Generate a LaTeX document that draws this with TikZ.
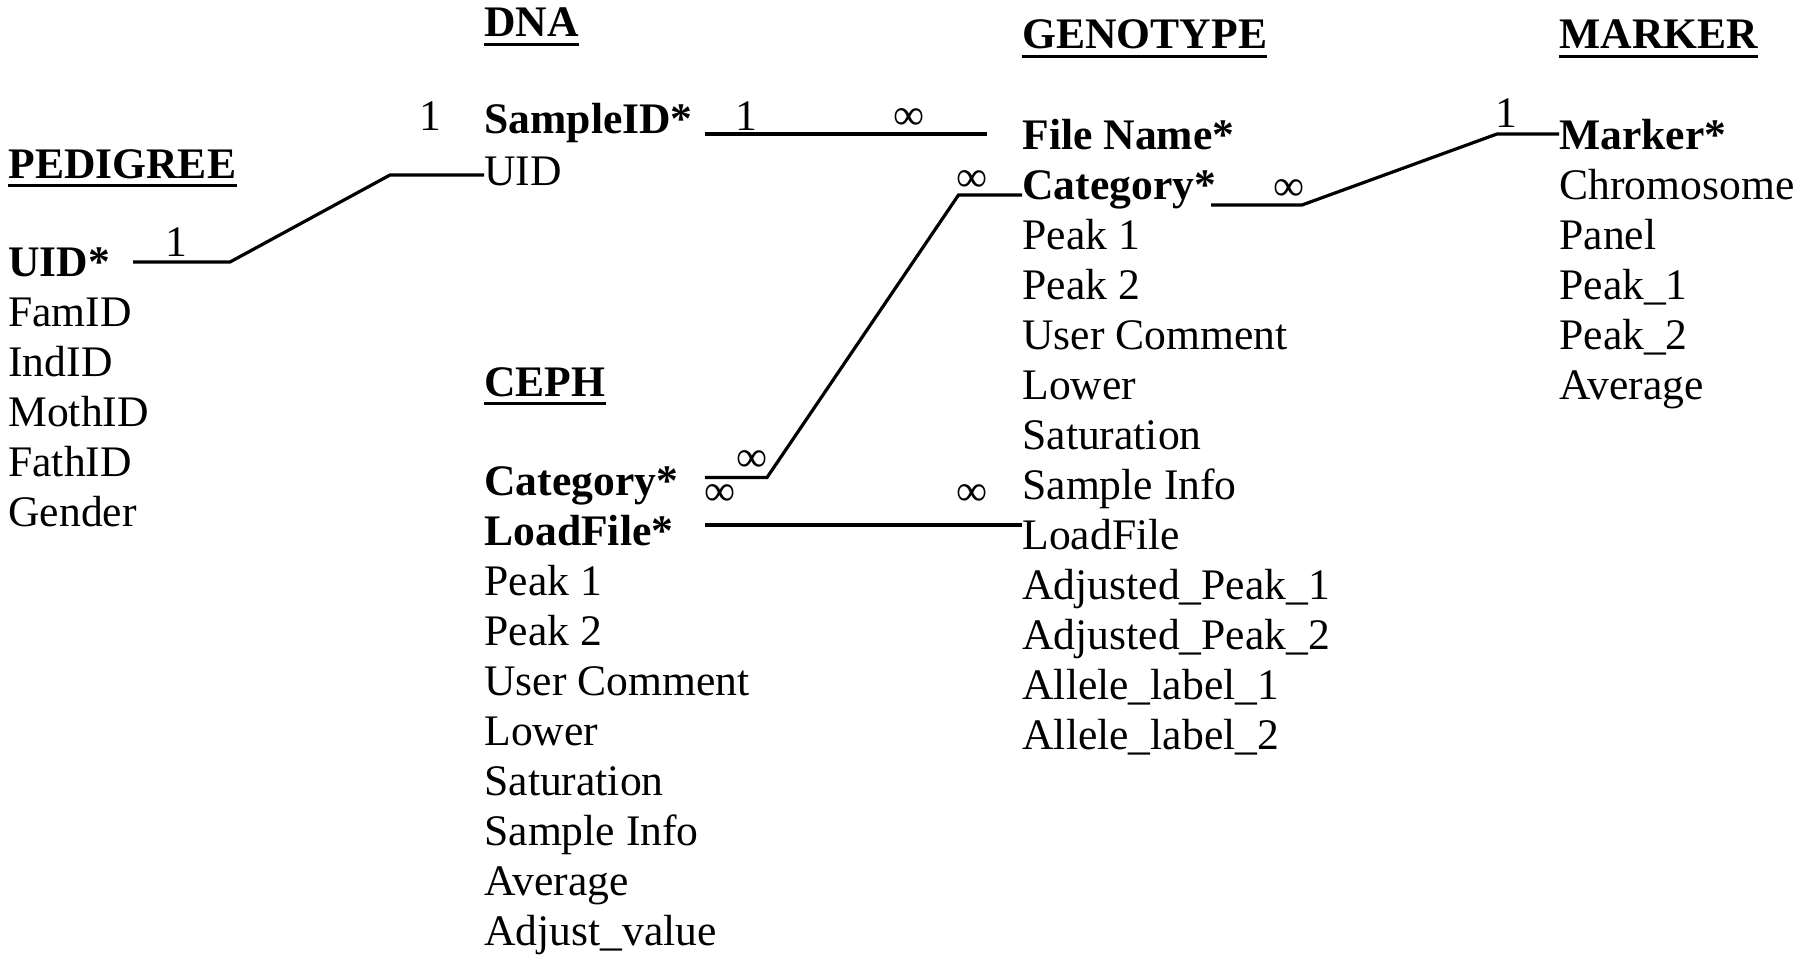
\documentclass[tikz,border=0pt]{standalone}
\usepackage{fontspec}
\setmainfont{Liberation Serif}
\begin{document}
\begin{tikzpicture}[x=0.5pt,y=-0.5pt,
  txt/.style={anchor=base west, inner sep=0pt, font=\fontsize{21.8}{25}\selectfont},
  bftxt/.style={anchor=base west, inner sep=0pt, font=\fontsize{21.8}{25}\selectfont\bfseries},
  lbl/.style={anchor=center, inner sep=0pt, font=\fontsize{21.8}{25}\selectfont},
  conn/.style={line width=1.6pt},
  uline/.style={line width=1.6pt}]
\useasboundingbox (0,0) rectangle (1800,959);

% ---------- headings ----------
\node[bftxt] (hdna) at (484,36.5) {DNA};
\node[bftxt] (hgen) at (1022,48.5) {GENOTYPE};
\node[bftxt] (hmar) at (1559,48.5) {MARKER};
\node[bftxt] (hped) at (8,178) {PEDIGREE};
\node[bftxt] (hcep) at (484,396) {CEPH};
\foreach \h in {hdna,hgen,hmar,hped,hcep}
  \draw[uline] ([yshift=-3.8pt]\h.base west) -- ([yshift=-3.8pt]\h.base east);

% ---------- PEDIGREE ----------
\node[bftxt] (puid) at (8,276.5) {UID*};
\node[txt] (pfam) at (8,326.5) {FamID};
\node[txt] (pind) at (8,376.5) {IndID};
\node[txt] (pmot) at (8,426.5) {MothID};
\node[txt] (pfat) at (8,476.5) {FathID};
\node[txt] (pgen) at (8,526.5) {Gender};

% ---------- DNA ----------
\node[bftxt] (dsid) at (484,133.5) {SampleID*};
\node[txt] (duid) at (484,185.5) {UID};

% ---------- GENOTYPE ----------
\node[bftxt] (gfn) at (1022,149.5) {File Name*};
\node[bftxt] (gcat) at (1022,199.5) {Category*};
\node[txt] (gp1) at (1022,249.5) {Peak 1};
\node[txt] (gp2) at (1022,299.5) {Peak 2};
\node[txt] (guc) at (1022,349.5) {User Comment};
\node[txt] (glo) at (1022,399.5) {Lower};
\node[txt] (gsat) at (1022,449.5) {Saturation};
\node[txt] (gsi) at (1022,499.5) {Sample Info};
\node[txt] (glf) at (1022,549.5) {LoadFile};
\node[txt] (gap1) at (1022,599.5) {Adjusted\_Peak\_1};
\node[txt] (gap2) at (1022,649.5) {Adjusted\_Peak\_2};
\node[txt] (gal1) at (1022,699.5) {Allele\_label\_1};
\node[txt] (gal2) at (1022,749.5) {Allele\_label\_2};

% ---------- MARKER ----------
\node[bftxt] (mmk) at (1559,149.5) {Marker*};
\node[txt] (mchr) at (1559,199.5) {Chromosome};
\node[txt] (mpan) at (1559,249.5) {Panel};
\node[txt] (mp1) at (1559,299.5) {Peak\_1};
\node[txt] (mp2) at (1559,349.5) {Peak\_2};
\node[txt] (mavg) at (1559,399.5) {Average};

% ---------- CEPH ----------
\node[bftxt] (ccat) at (484,495.5) {Category*};
\node[bftxt] (clf) at (484,545.5) {LoadFile*};
\node[txt] (cp1) at (484,595.5) {Peak 1};
\node[txt] (cp2) at (484,645.5) {Peak 2};
\node[txt] (cuc) at (484,695.5) {User Comment};
\node[txt] (clo) at (484,745.5) {Lower};
\node[txt] (csat) at (484,795.5) {Saturation};
\node[txt] (csi) at (484,845.5) {Sample Info};
\node[txt] (cavg) at (484,895.5) {Average};
\node[txt] (cadj) at (484,945.5) {Adjust\_value};

% ---------- connector points ----------
\coordinate (a1) at (133,262);
\coordinate (a2) at (230,262);
\coordinate (a3) at (390,175);
\coordinate (b1) at (705,134);
\coordinate (b2) at (987,134);
\coordinate (c1) at (705,477.5);
\coordinate (c2) at (767,477.5);
\coordinate (c3) at (958.5,195);
\coordinate (d1) at (705,525);
\coordinate (e1) at (1211,205);
\coordinate (e2) at (1302,205);
\coordinate (e3) at (1497,134);

% ---------- connectors ----------
\draw[conn] (a1) -- (a2) -- (a3) -- (a3 -| duid.west);
\draw[conn] (b1) -- (b2);
\draw[conn] (c1) -- (c2) -- (c3) -- (c3 -| gcat.west);
\draw[conn] (d1) -- (d1 -| glf.west);
\draw[conn] (e1) -- (e2) -- (e3) -- (e3 -| mmk.west);

% ---------- cardinality labels ----------
\node[lbl] (l1) at (176,242) {1};
\node[lbl] (l2) at (430,116) {1};
\node[lbl] (l3) at (746,116) {1};
\node[lbl] (l4) at (909,119) {∞};
\node[lbl] (l5) at (752,461) {∞};
\node[lbl] (l6) at (720,495) {∞};
\node[lbl] (l7) at (972,181) {∞};
\node[lbl] (l8) at (972,495) {∞};
\node[lbl] (l9) at (1289,190) {∞};
\node[lbl] (l10) at (1506,113.5) {1};
\end{tikzpicture}
\end{document}
